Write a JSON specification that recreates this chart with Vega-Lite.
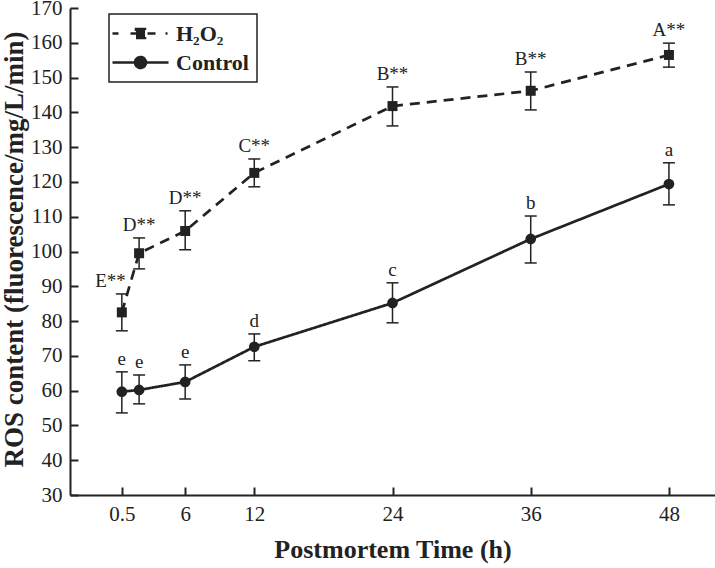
{
  "$schema": "https://vega.github.io/schema/vega-lite/v6.json",
  "width": 645,
  "height": 487,
  "autosize": {"type": "none"},
  "padding": {"left": 70, "top": 8, "right": 0, "bottom": 73},
  "background": "white",
  "config": {
    "view": {"stroke": null},
    "font": "Liberation Serif",
    "axis": {
      "domainColor": "#222",
      "domainWidth": 2,
      "tickColor": "#222",
      "tickWidth": 2,
      "tickSize": -8,
      "labelFont": "Liberation Serif",
      "labelFontSize": 21,
      "labelColor": "#222",
      "labelOverlap": false,
      "titleFont": "Liberation Serif",
      "titleFontWeight": "bold",
      "titleColor": "#222",
      "grid": false
    }
  },
  "data": {
    "values": [
      {"series": "H₂O₂", "t": 0.5, "mean": 82.5, "lo": 77.2, "hi": 87.8, "label": "E**"},
      {"series": "H₂O₂", "t": 2, "mean": 99.5, "lo": 95.0, "hi": 103.9, "label": "D**"},
      {"series": "H₂O₂", "t": 6, "mean": 105.9, "lo": 100.5, "hi": 111.7, "label": "D**"},
      {"series": "H₂O₂", "t": 12, "mean": 122.6, "lo": 118.6, "hi": 126.6, "label": "C**"},
      {"series": "H₂O₂", "t": 24, "mean": 141.8, "lo": 136.1, "hi": 147.3, "label": "B**"},
      {"series": "H₂O₂", "t": 36, "mean": 146.2, "lo": 140.7, "hi": 151.6, "label": "B**"},
      {"series": "H₂O₂", "t": 48, "mean": 156.5, "lo": 153.0, "hi": 159.9, "label": "A**"},
      {"series": "Control", "t": 0.5, "mean": 59.7, "lo": 53.6, "hi": 65.4, "label": "e"},
      {"series": "Control", "t": 2, "mean": 60.2, "lo": 56.2, "hi": 64.5, "label": "e"},
      {"series": "Control", "t": 6, "mean": 62.5, "lo": 57.6, "hi": 67.4, "label": "e"},
      {"series": "Control", "t": 12, "mean": 72.6, "lo": 68.6, "hi": 76.3, "label": "d"},
      {"series": "Control", "t": 24, "mean": 85.2, "lo": 79.5, "hi": 91.0, "label": "c"},
      {"series": "Control", "t": 36, "mean": 103.6, "lo": 96.7, "hi": 110.2, "label": "b"},
      {"series": "Control", "t": 48, "mean": 119.4, "lo": 113.4, "hi": 125.5, "label": "a"}
    ]
  },
  "encoding": {
    "x": {
      "field": "t",
      "type": "quantitative",
      "scale": {"domain": [-4, 52], "nice": false, "zero": false},
      "axis": {
        "values": [0.5, 6, 12, 24, 36, 48],
        "labelExpr": "datum.value + ''",
        "title": "Postmortem Time (h)",
        "titleFontSize": 26,
        "labelPadding": 16,
        "titlePadding": 12
      }
    },
    "y": {
      "field": "mean",
      "type": "quantitative",
      "scale": {"domain": [30, 170], "nice": false, "zero": false},
      "axis": {
        "values": [30, 40, 50, 60, 70, 80, 90, 100, 110, 120, 130, 140, 150, 160, 170],
        "labelOverlap": false,
        "labelBound": false,
        "tickCount": 15,
        "title": "ROS content (fluorescence/mg/L/min)",
        "titleFontSize": 27,
        "labelPadding": 16,
        "titleAngle": -90,
        "titleAlign": "center",
        "titleBaseline": "middle",
        "titleX": -56,
        "titleY": 241
      }
    }
  },
  "layer": [
    {
      "mark": {"type": "line", "color": "#222", "strokeWidth": 2.7},
      "encoding": {
        "strokeDash": {
          "field": "series",
          "type": "nominal",
          "scale": {"domain": ["H₂O₂", "Control"], "range": [[10, 7], [1, 0]]},
          "legend": {
            "title": null,
            "orient": "none",
            "legendX": 39,
            "legendY": 6,
            "padding": 8,
            "strokeColor": "#222",
            "symbolType": "M-1.6,0H4.0",
            "symbolSize": 400,
            "symbolStrokeWidth": 2.5,
            "symbolStrokeColor": "#222",
            "symbolFillColor": "#222",
            "labelFont": "Liberation Serif",
            "labelFontSize": 22,
            "labelFontWeight": "bold",
            "labelColor": "#222",
            "labelOffset": 36,
            "rowPadding": 6,
            "encode": {
              "legend": {"update": {"strokeWidth": {"value": 1.5}}},
              "symbols": {
                "update": {
                  "shape": {"signal": "datum.value === 'Control' ? 'M-1.6,0H4.0M0.65,0A0.55,0.55 0 1,0 1.75,0A0.55,0.55 0 1,0 0.65,0Z' : 'M-1.6,0H-1.0M0.2,0H2.7M0.75,-0.45H1.65V0.45H0.75ZM3.7,0H3.9'"},
                  "strokeDash": {"value": []},
                  "fill": {"value": "#222"},
                  "stroke": {"value": "#222"}
                }
              }
            }
          }
        }
      }
    },
    {
      "mark": {"type": "rule", "color": "#222", "strokeWidth": 1.5},
      "encoding": {
        "y": {"field": "lo", "type": "quantitative"},
        "y2": {"field": "hi"}
      }
    },
    {
      "mark": {"type": "tick", "orient": "horizontal", "color": "#222", "size": 12, "thickness": 1.5, "opacity": 1},
      "encoding": {"y": {"field": "lo", "type": "quantitative"}}
    },
    {
      "mark": {"type": "tick", "orient": "horizontal", "color": "#222", "size": 12, "thickness": 1.5, "opacity": 1},
      "encoding": {"y": {"field": "hi", "type": "quantitative"}}
    },
    {
      "transform": [{"filter": "datum.series === 'H₂O₂'"}],
      "mark": {"type": "point", "shape": "square", "size": 100, "filled": true, "color": "#222", "opacity": 1}
    },
    {
      "transform": [{"filter": "datum.series === 'Control'"}],
      "mark": {"type": "point", "shape": "circle", "size": 115, "filled": true, "color": "#222", "opacity": 1}
    },
    {
      "transform": [{"filter": "!(datum.series === 'H₂O₂' && datum.t === 0.5)"}],
      "mark": {"type": "text", "align": "center", "baseline": "alphabetic", "dy": -7, "font": "Liberation Serif", "fontSize": 19, "color": "#222"},
      "encoding": {
        "y": {"field": "hi", "type": "quantitative"},
        "text": {"field": "label"}
      }
    },
    {
      "transform": [{"filter": "datum.series === 'H₂O₂' && datum.t === 0.5"}],
      "mark": {"type": "text", "align": "right", "baseline": "alphabetic", "dx": 4, "dy": -7, "font": "Liberation Serif", "fontSize": 19, "color": "#222"},
      "encoding": {
        "y": {"field": "hi", "type": "quantitative"},
        "text": {"field": "label"}
      }
    }
  ]
}
